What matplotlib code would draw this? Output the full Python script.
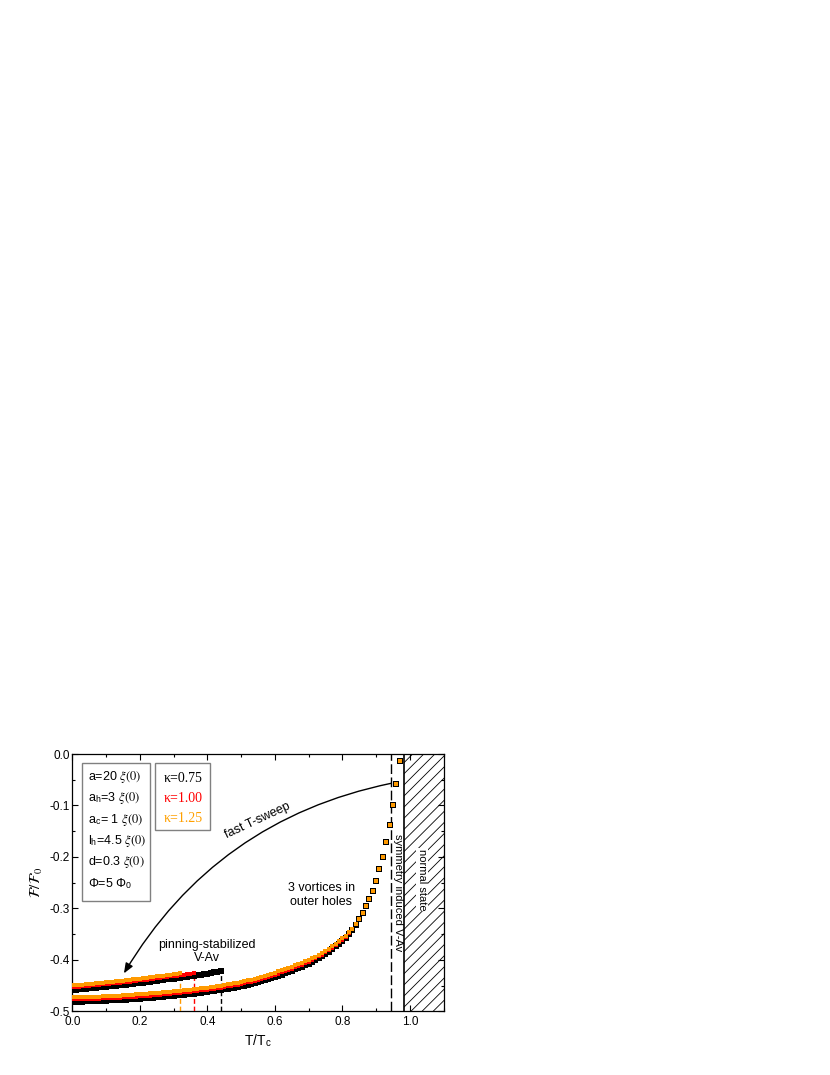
import matplotlib
matplotlib.use("Agg")
import matplotlib.pyplot as plt
from matplotlib.patches import FancyArrowPatch, Rectangle
from matplotlib.ticker import MultipleLocator

plt.rcParams["font.family"] = ["Liberation Sans", "DejaVu Sans"]
plt.rcParams["mathtext.fontset"] = "stix"
plt.rcParams["axes.unicode_minus"] = False
plt.rcParams["hatch.linewidth"] = 0.6

# ground-state branch (3 vortices in outer holes), sampled every 0.01 in T/Tc
T_LOWER = [i / 100 for i in range(98)]
F_LOWER_075 = [
    -0.4810, -0.4810, -0.4809, -0.4808, -0.4805, -0.4802, -0.4800, -0.4797, -0.4795, -0.4793,
    -0.4790, -0.4787, -0.4783, -0.4780, -0.4776, -0.4772, -0.4768, -0.4764, -0.4759, -0.4755,
    -0.4750, -0.4745, -0.4740, -0.4735, -0.4730, -0.4725, -0.4719, -0.4713, -0.4707, -0.4701,
    -0.4695, -0.4688, -0.4681, -0.4674, -0.4667, -0.4660, -0.4652, -0.4644, -0.4636, -0.4628,
    -0.4620, -0.4611, -0.4601, -0.4591, -0.4581, -0.4570, -0.4559, -0.4547, -0.4535, -0.4523,
    -0.4510, -0.4496, -0.4481, -0.4466, -0.4451, -0.4435, -0.4416, -0.4396, -0.4375, -0.4353,
    -0.4330, -0.4307, -0.4284, -0.4259, -0.4235, -0.4210, -0.4184, -0.4157, -0.4129, -0.4100,
    -0.4070, -0.4037, -0.4002, -0.3965, -0.3925, -0.3882, -0.3836, -0.3787, -0.3735, -0.3681,
    -0.3625, -0.3565, -0.3500, -0.3420, -0.3320, -0.3210, -0.3090, -0.2960, -0.2820, -0.2665,
    -0.2475, -0.2240, -0.2000, -0.1710, -0.1380, -0.1000, -0.0580, -0.0130,
]
F_LOWER_100 = [
    -0.4765, -0.4765, -0.4764, -0.4763, -0.4760, -0.4757, -0.4755, -0.4752, -0.4750, -0.4748,
    -0.4745, -0.4742, -0.4738, -0.4735, -0.4731, -0.4727, -0.4723, -0.4719, -0.4714, -0.4710,
    -0.4705, -0.4700, -0.4695, -0.4690, -0.4685, -0.4680, -0.4674, -0.4668, -0.4662, -0.4656,
    -0.4650, -0.4643, -0.4636, -0.4629, -0.4622, -0.4615, -0.4607, -0.4599, -0.4591, -0.4583,
    -0.4575, -0.4566, -0.4556, -0.4546, -0.4536, -0.4525, -0.4514, -0.4502, -0.4490, -0.4478,
    -0.4465, -0.4451, -0.4436, -0.4421, -0.4406, -0.4390, -0.4371, -0.4351, -0.4330, -0.4308,
    -0.4285, -0.4263, -0.4241, -0.4217, -0.4194, -0.4170, -0.4144, -0.4118, -0.4091, -0.4062,
    -0.4032, -0.4001, -0.3967, -0.3932, -0.3894, -0.3852, -0.3808, -0.3760, -0.3710, -0.3657,
    -0.3603, -0.3545, -0.3483, -0.3405, -0.3310, -0.3205, -0.3090, -0.2960, -0.2820, -0.2665,
    -0.2475, -0.2240, -0.2000, -0.1710, -0.1380, -0.1000, -0.0580, -0.0130,
]
F_LOWER_125 = [
    -0.4725, -0.4725, -0.4724, -0.4723, -0.4720, -0.4717, -0.4715, -0.4712, -0.4710, -0.4708,
    -0.4705, -0.4702, -0.4698, -0.4695, -0.4691, -0.4687, -0.4683, -0.4679, -0.4674, -0.4670,
    -0.4665, -0.4660, -0.4655, -0.4650, -0.4645, -0.4640, -0.4634, -0.4628, -0.4622, -0.4616,
    -0.4610, -0.4603, -0.4596, -0.4589, -0.4582, -0.4575, -0.4567, -0.4559, -0.4551, -0.4543,
    -0.4535, -0.4526, -0.4516, -0.4506, -0.4496, -0.4485, -0.4474, -0.4462, -0.4450, -0.4438,
    -0.4425, -0.4411, -0.4396, -0.4381, -0.4366, -0.4350, -0.4331, -0.4311, -0.4290, -0.4268,
    -0.4245, -0.4223, -0.4201, -0.4177, -0.4154, -0.4130, -0.4105, -0.4079, -0.4052, -0.4024,
    -0.3995, -0.3965, -0.3933, -0.3899, -0.3862, -0.3822, -0.3779, -0.3733, -0.3684, -0.3633,
    -0.3580, -0.3525, -0.3465, -0.3390, -0.3300, -0.3200, -0.3090, -0.2960, -0.2820, -0.2665,
    -0.2475, -0.2240, -0.2000, -0.1710, -0.1380, -0.1000, -0.0580, -0.0130,
]

# pinning-stabilized V-Av branch, each kappa ends where it jumps down
T_UPPER_075 = [i / 100 for i in range(45)]
F_UPPER_075 = [
    -0.4580, -0.4574, -0.4569, -0.4563, -0.4557, -0.4551, -0.4545, -0.4539, -0.4532, -0.4526,
    -0.4519, -0.4512, -0.4505, -0.4498, -0.4491, -0.4484, -0.4477, -0.4469, -0.4462, -0.4454,
    -0.4446, -0.4438, -0.4430, -0.4422, -0.4413, -0.4405, -0.4396, -0.4388, -0.4379, -0.4370,
    -0.4361, -0.4352, -0.4343, -0.4333, -0.4324, -0.4314, -0.4304, -0.4294, -0.4284, -0.4274,
    -0.4264, -0.4254, -0.4243, -0.4233, -0.4222,
]
T_UPPER_100 = [i / 100 for i in range(37)]
F_UPPER_100 = [
    -0.4530, -0.4524, -0.4519, -0.4513, -0.4507, -0.4501, -0.4495, -0.4489, -0.4482, -0.4476,
    -0.4469, -0.4462, -0.4455, -0.4448, -0.4441, -0.4434, -0.4427, -0.4419, -0.4412, -0.4404,
    -0.4396, -0.4388, -0.4380, -0.4372, -0.4363, -0.4355, -0.4346, -0.4338, -0.4329, -0.4320,
    -0.4311, -0.4302, -0.4293, -0.4283, -0.4274, -0.4264, -0.4254,
]
T_UPPER_125 = [i / 100 for i in range(33)]
F_UPPER_125 = [
    -0.4495, -0.4489, -0.4484, -0.4478, -0.4472, -0.4466, -0.4460, -0.4454, -0.4447, -0.4441,
    -0.4434, -0.4427, -0.4420, -0.4413, -0.4406, -0.4399, -0.4392, -0.4384, -0.4377, -0.4369,
    -0.4361, -0.4353, -0.4345, -0.4337, -0.4328, -0.4320, -0.4311, -0.4303, -0.4294, -0.4285,
    -0.4276, -0.4267, -0.4258,
]

T_SYMMETRY = 0.944   # symmetry induced V-Av transition
T_NORMAL = 0.983     # normal state onset

BLACK, RED, ORANGE = "#000000", "#ff0000", "#ff9a00"

PARAMS = [
    r"a=20 $\xi(0)$",
    r"a$_\mathregular{h}$=3 $\xi(0)$",
    r"a$_\mathregular{c}$= 1 $\xi(0)$",
    r"l$_\mathregular{h}$=4.5 $\xi(0)$",
    r"d=0.3 $\xi(0)$",
    r"Φ=5 Φ$_\mathregular{0}$",
]
KAPPAS = [("κ=0.75", BLACK), ("κ=1.00", RED), ("κ=1.25", "#ffa000")]


def main():
    fig = plt.figure(figsize=(8.3, 10.75), dpi=100)
    ax = fig.add_axes([0.0871, 0.0591, 0.4473, 0.2395])

    series = [
        (T_LOWER, F_LOWER_075, BLACK, 3.7),
        (T_UPPER_075, F_UPPER_075, BLACK, 3.7),
        (T_LOWER, F_LOWER_100, RED, 3.0),
        (T_UPPER_100, F_UPPER_100, RED, 3.0),
        (T_LOWER, F_LOWER_125, ORANGE, 2.4),
        (T_UPPER_125, F_UPPER_125, ORANGE, 2.4),
    ]
    for ts, fs, c, ms in series:
        ax.plot(ts, fs, ls="none", marker="s", ms=ms, mfc=c, mec="none", mew=0, zorder=4)

    # jumps from the metastable branch
    for ts, fs, c in [(T_UPPER_125, F_UPPER_125, ORANGE),
                      (T_UPPER_100, F_UPPER_100, RED),
                      (T_UPPER_075, F_UPPER_075, BLACK)]:
        ax.plot([ts[-1], ts[-1]], [-0.5, fs[-1]], color=c, lw=1.0,
                ls=(0, (3.5, 2)), zorder=3)

    ax.add_patch(Rectangle((T_NORMAL, -0.5), 1.1 - T_NORMAL, 0.5, facecolor="white",
                           edgecolor="black", hatch="///", lw=0, zorder=1))
    ax.axvline(T_NORMAL, color="black", lw=1.2, zorder=2)
    ax.axvline(T_SYMMETRY, color="black", lw=1.0, ls=(0, (7, 2.5)), zorder=2)

    # parameter boxes
    ax.add_patch(Rectangle((0.03, -0.2846), 0.2, 0.2676, fill=False,
                           ec="#808080", lw=1.0, zorder=5))
    ax.add_patch(Rectangle((0.245, -0.148), 0.163, 0.131, fill=False,
                           ec="#808080", lw=1.0, zorder=5))
    for i, s in enumerate(PARAMS):
        ax.text(0.047, -0.0442 - 0.0416 * i, s, fontsize=9, va="center", ha="left")
    for i, (s, c) in enumerate(KAPPAS):
        ax.text(0.27, -0.0468 - 0.039 * i, s, fontsize=10, color=c, va="center",
                ha="left", family=["Liberation Serif", "DejaVu Serif"])

    arrow = FancyArrowPatch((0.944, -0.057), (0.153, -0.426),
                            connectionstyle="arc3,rad=0.22",
                            arrowstyle="-|>,head_length=0.5,head_width=0.2",
                            mutation_scale=12, lw=1.0, color="black",
                            shrinkA=0, shrinkB=0, zorder=6)
    ax.add_patch(arrow)

    ax.text(0.55, -0.129, "fast T-sweep", fontsize=9, rotation=25,
            ha="center", va="center")
    ax.text(0.738, -0.2735, "3 vortices in\nouter holes", fontsize=9,
            ha="center", va="center")
    ax.text(0.40, -0.3835, "pinning-stabilized\nV-Av", fontsize=9,
            ha="center", va="center")
    ax.text(0.964, -0.269, "symmetry induced V-Av", fontsize=8, rotation=270,
            ha="center", va="center")
    ax.text(1.036, -0.244, "normal state", fontsize=8, rotation=270,
            ha="center", va="center", bbox=dict(fc="white", ec="none", pad=0.5))

    ax.set_xlim(0, 1.1)
    ax.set_ylim(-0.5, 0.0)
    ax.xaxis.set_major_locator(MultipleLocator(0.2))
    ax.xaxis.set_minor_locator(MultipleLocator(0.1))
    ax.yaxis.set_major_locator(MultipleLocator(0.1))
    ax.yaxis.set_minor_locator(MultipleLocator(0.05))
    ax.tick_params(which="both", direction="in", top=True, right=True,
                   labelsize=8.5, width=0.8)
    ax.tick_params(which="major", length=4)
    ax.tick_params(which="minor", length=2)
    ax.tick_params(axis="y", pad=2)
    ax.tick_params(axis="x", pad=3)
    for sp in ax.spines.values():
        sp.set_linewidth(0.9)

    ax.set_xlabel(r"T/T$_\mathregular{c}$", fontsize=10, labelpad=3)
    ax.set_ylabel(r"$\mathcal{F}/\mathcal{F}_0$", fontsize=11, labelpad=3)

    fig.savefig("out.png", dpi=100)


if __name__ == "__main__":
    main()
